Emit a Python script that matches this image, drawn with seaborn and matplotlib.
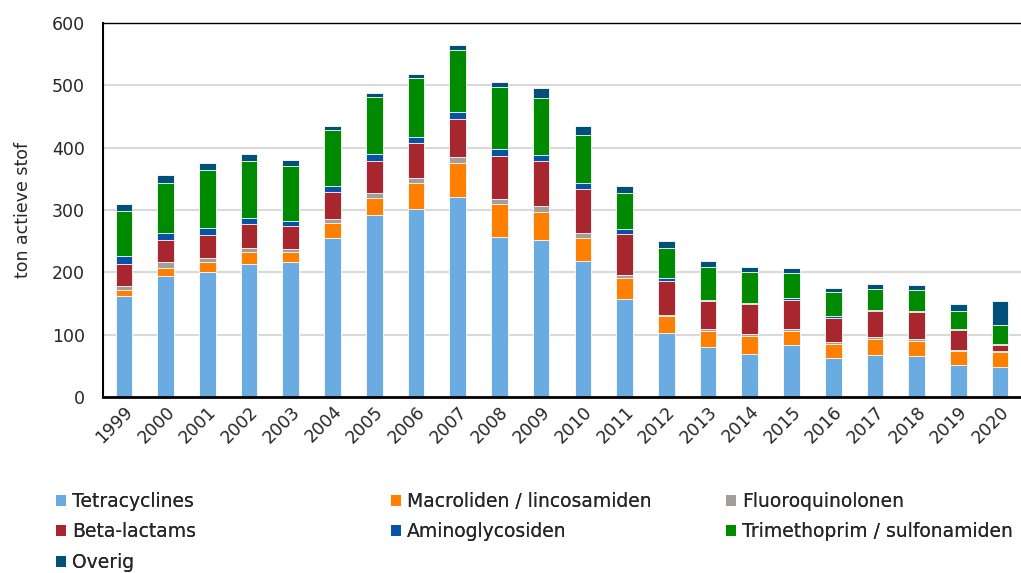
import matplotlib
matplotlib.use("Agg")
import matplotlib.pyplot as plt
import seaborn as sns
import pandas as pd
import numpy as np
from matplotlib.patches import Patch

years = [str(y) for y in range(1999, 2021)]
series_names = ["Tetracyclines", "Macroliden / lincosamiden", "Fluoroquinolonen",
                "Beta-lactams", "Aminoglycosiden", "Trimethoprim / sulfonamiden", "Overig"]
tetracyclines = [161.5, 194.1, 200.0, 213.4, 216.0, 255.6, 292.0, 301.0, 320.9, 256.7, 251.3,
                 217.6, 157.2, 102.1, 80.2, 69.5, 82.9, 62.0, 67.9, 65.2, 50.8, 48.7]
macroliden = [10.2, 13.4, 16.0, 18.7, 16.1, 23.5, 27.8, 42.3, 55.0, 53.5, 46.0,
              38.0, 33.7, 27.3, 25.1, 28.4, 22.4, 23.0, 24.6, 24.1, 23.0, 24.0]
fluoroquinolonen = [6.9, 8.5, 7.0, 7.5, 5.3, 7.0, 7.5, 7.5, 9.1, 6.9, 8.6,
                    8.0, 5.4, 2.6, 3.3, 3.7, 3.8, 3.2, 3.2, 3.7, 1.1, 0.6]
beta_lactams = [34.8, 35.9, 37.4, 37.9, 36.9, 42.8, 51.8, 56.2, 61.0, 70.1, 72.2,
                70.1, 65.7, 53.6, 45.4, 48.1, 46.0, 39.1, 42.3, 43.4, 32.6, 10.7]
aminoglycosiden = [12.8, 11.7, 11.3, 9.7, 8.1, 9.6, 10.7, 10.1, 11.8, 10.7, 10.1,
                   9.1, 7.0, 5.8, 2.1, 1.6, 3.2, 2.1, 1.6, 2.1, 1.1, 1.0]
trimethoprim = [72.8, 79.2, 92.3, 91.4, 88.2, 90.4, 91.5, 94.1, 99.4, 100.0, 92.0,
                78.1, 58.8, 48.2, 53.0, 49.2, 41.2, 38.5, 33.7, 33.2, 29.4, 30.5]
overig = [10.6, 13.2, 11.0, 11.4, 9.4, 6.4, 5.9, 7.5, 7.5, 6.9, 15.0,
          13.3, 10.2, 10.1, 8.5, 7.5, 8.0, 7.0, 7.4, 7.4, 11.2, 39.0]
y_ticks = [0, 100, 200, 300, 400, 500, 600]

colors = ["#6aabe2", "#ff7f00", "#a39e99", "#a8272f", "#0652a4", "#008a00", "#01507a"]
values = [tetracyclines, macroliden, fluoroquinolonen, beta_lactams,
          aminoglycosiden, trimethoprim, overig]

df = pd.DataFrame({"year": years})
cum = np.zeros(len(years))
for name, v in zip(series_names, values):
    cum = cum + np.array(v)
    df[name] = cum

sns.set_style("white")
plt.rcParams["font.family"] = ["DejaVu Sans"]

fig = plt.figure(figsize=(10.21, 5.73), dpi=100)
ax = fig.add_axes([103 / 1021, (573 - 397) / 573, 1 - 103 / 1021, (397 - 23) / 573])

for name, c in reversed(list(zip(series_names, colors))):
    sns.barplot(data=df, x="year", y=name, color=c, width=0.4, ax=ax,
                edgecolor="#ffffff", linewidth=0.6, saturation=1, errorbar=None)

ax.set_ylim(0, 600)
ax.set_xlim(-0.5, 21.5)
ax.set_yticks(y_ticks)
ax.set_yticklabels([str(t) for t in y_ticks], fontsize=12.5)
ax.yaxis.grid(True, color="#d9d9d9", linewidth=1.5)
ax.set_axisbelow(True)
ax.set_xlabel("")
ax.set_ylabel("ton actieve stof", fontsize=12.5, labelpad=14)
ax.tick_params(axis="y", length=0, pad=13)
ax.tick_params(axis="x", length=0, pad=4)
for lbl in ax.get_xticklabels():
    lbl.set_rotation(45)
    lbl.set_ha("right")
    lbl.set_rotation_mode("anchor")
    lbl.set_fontsize(12.5)

for s in ["left", "bottom", "top"]:
    ax.spines[s].set_visible(True)
    ax.spines[s].set_color("black")
ax.spines["left"].set_linewidth(1.5)
ax.spines["bottom"].set_linewidth(2)
ax.spines["top"].set_linewidth(1)
ax.spines["right"].set_visible(False)

cols = [[0, 3, 6], [1, 4], [2, 5]]
xs = [56 / 1021, 391 / 1021, 726 / 1021]
for xi, idxs in zip(xs, cols):
    handles = [Patch(facecolor=colors[i], edgecolor="none") for i in idxs]
    labels = [series_names[i] for i in idxs]
    leg = fig.legend(handles, labels, loc="upper left", bbox_to_anchor=(xi, 1 - 492 / 573),
                     frameon=False, fontsize=13.5, handlelength=0.55, handleheight=0.55,
                     handletextpad=0.3, labelspacing=0.61, borderaxespad=0, borderpad=0)
    fig.add_artist(leg)

fig.savefig("out.png", dpi=100)
